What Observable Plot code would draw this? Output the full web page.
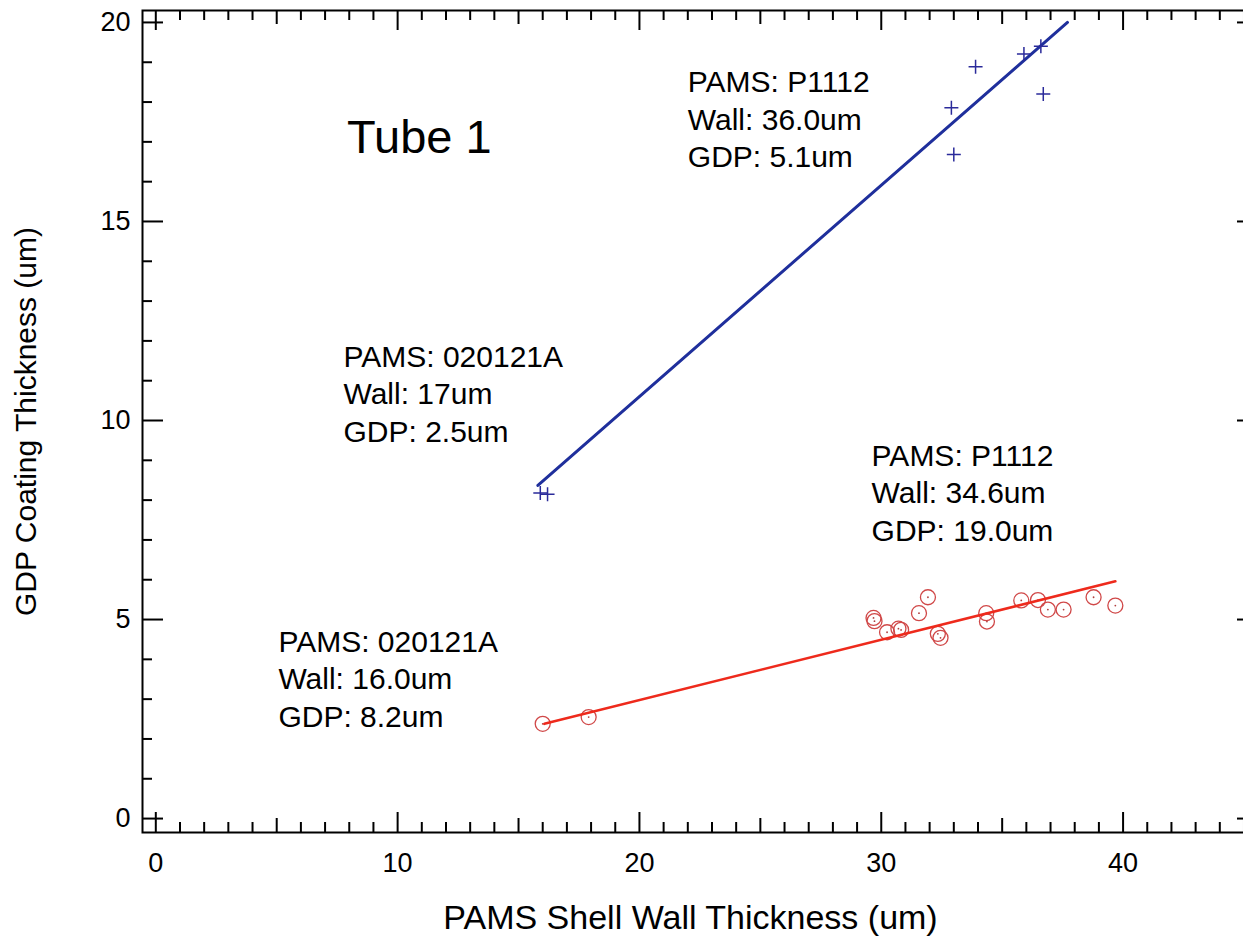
<!DOCTYPE html>
<html>
<head>
<meta charset="utf-8">
<script src="https://cdn.jsdelivr.net/npm/d3@7"></script>
<script src="https://cdn.jsdelivr.net/npm/@observablehq/plot@0.6"></script>
<style>
  html, body { margin: 0; padding: 0; background: #fff; }
  #chart svg { display: block; }
</style>
</head>
<body>
<div id="chart"></div>
<script>
// ---- Data ----
const blueX = [15.9, 16.2, 32.9, 33.0, 33.9, 35.9, 36.6, 36.7];
const blueY = [8.18, 8.15, 17.86, 16.68, 18.89, 19.21, 19.40, 18.20];
const redX = [16.0, 17.9, 29.68, 29.72, 30.24, 30.71, 30.82, 31.56, 31.93, 32.34, 32.45, 34.34, 34.37, 35.79, 36.48, 36.89, 37.54, 38.78, 39.68];
const redY = [2.38, 2.55, 5.04, 4.96, 4.68, 4.77, 4.74, 5.16, 5.56, 4.64, 4.54, 5.16, 4.95, 5.48, 5.49, 5.25, 5.25, 5.56, 5.35];
const blueFitX = [15.8, 37.7];
const blueFitY = [8.37, 20.0];
const redFitX = [16.07, 39.68];
const redFitY = [2.38, 5.96];

const xTickLabels = [0, 10, 20, 30, 40];
const yTickLabels = [0, 5, 10, 15, 20];

const noteText = [
  "PAMS: P1112\nWall: 36.0um\nGDP: 5.1um",
  "PAMS: 020121A\nWall: 17um\nGDP: 2.5um",
  "PAMS: P1112\nWall: 34.6um\nGDP: 19.0um",
  "PAMS: 020121A\nWall: 16.0um\nGDP: 8.2um"
];
const noteX = [22.0, 7.76, 29.6, 5.07];
const noteY = [17.61, 10.71, 8.22, 3.55];
const titleText = "Tube 1";
const titleX = 7.91, titleY = 17.11;

const xTitle = "PAMS Shell Wall Thickness (um)";
const yTitle = "GDP Coating Thickness (um)";

// ---- Build tables ----
const blue = blueX.map((x, i) => ({x, y: blueY[i]}));
const red = redX.map((x, i) => ({x, y: redY[i]}));
const blueFit = blueFitX.map((x, i) => ({x, y: blueFitY[i]}));
const redFit = redFitX.map((x, i) => ({x, y: redFitY[i]}));
const notes = noteText.map((t, i) => ({t, x: noteX[i], y: noteY[i]}));

// ---- Layout ----
const W = 1243, H = 949;
const mL = 142, mR = -15, mT = 10, mB = 117;
const innerW = W - mL - mR, innerH = H - mT - mB;

const xMajor = xTickLabels;
const xMedium = d3.range(5, 46, 10);
const xMinor = d3.range(0, 46, 1).filter(v => v % 5 !== 0);
const yMajor = yTickLabels;
const yMinor = d3.range(0, 21, 1).filter(v => v % 5 !== 0);

const plusSymbol = {
  draw(ctx, size) {
    const r = Math.sqrt(size / Math.PI);
    ctx.moveTo(-r, 0); ctx.lineTo(r, 0);
    ctx.moveTo(0, -r); ctx.lineTo(0, r);
  }
};

const font = "'Liberation Sans', Arial, Helvetica, sans-serif";
const ink = "#000";
const tw = 2;

function xTicks(vals, len) {
  return [
    Plot.tickX(vals, {x: d => d, insetTop: innerH - len, stroke: ink, strokeWidth: tw}),
    Plot.tickX(vals, {x: d => d, insetBottom: innerH - len, stroke: ink, strokeWidth: tw})
  ];
}
function yTicks(vals, len) {
  return [
    Plot.tickY(vals, {y: d => d, insetRight: innerW - len, stroke: ink, strokeWidth: tw}),
    Plot.tickY(vals, {y: d => d, insetLeft: innerW - len, stroke: ink, strokeWidth: tw})
  ];
}

const chart = Plot.plot({
  width: W,
  height: H,
  marginLeft: mL,
  marginRight: mR,
  marginTop: mT,
  marginBottom: mB,
  style: {fontFamily: font, background: "#fff", color: "#000"},
  x: {domain: [-0.55, 45.6], axis: null},
  y: {domain: [-0.35, 20.3], axis: null},
  marks: [
    Plot.frame({stroke: ink, strokeWidth: tw}),
    ...xTicks(xMajor, 20),
    ...xTicks(xMedium, 14),
    ...xTicks(xMinor, 10),
    ...yTicks(yMajor, 21),
    ...yTicks(yMinor, 10),
    Plot.axisX({ticks: xTickLabels, tickSize: 0, tickPadding: 20, fontSize: 27, anchor: "bottom", label: null, tickFormat: d => String(d)}),
    Plot.axisY({ticks: yTickLabels, tickSize: 0, tickPadding: 12, fontSize: 27, anchor: "left", label: null, tickFormat: d => String(d)}),
    Plot.text([xTitle], {frameAnchor: "bottom", textAnchor: "middle", lineAnchor: "middle", dx: -10, dy: 86, fontSize: 34, fill: ink}),
    Plot.text([yTitle], {frameAnchor: "left", textAnchor: "middle", lineAnchor: "middle", rotate: -90, dx: -116, fontSize: 30, fill: ink}),
    // blue series
    Plot.line(blueFit, {x: "x", y: "y", stroke: "#1f2f9c", strokeWidth: 3}),
    Plot.dot(blue, {x: "x", y: "y", symbol: plusSymbol, r: 7, stroke: "#2a2a9a", strokeWidth: 1.5, fill: "none"}),
    // red series
    Plot.dot(red, {x: "x", y: "y", r: 7.5, stroke: "#d04848", strokeWidth: 1.3, fill: "none"}),
    Plot.dot(red, {x: "x", y: "y", r: 0.9, fill: "#b04040", stroke: "none"}),
    Plot.line(redFit, {x: "x", y: "y", stroke: "#ee2a1c", strokeWidth: 2.6}),
    // annotations
    Plot.text(notes, {x: "x", y: "y", text: "t", textAnchor: "start", lineAnchor: "middle", lineHeight: 1.25, fontSize: 30, fill: ink}),
    Plot.text([titleText], {x: () => titleX, y: () => titleY, textAnchor: "start", fontSize: 47, fill: ink})
  ]
});

document.getElementById("chart").appendChild(chart);
</script>
</body>
</html>
